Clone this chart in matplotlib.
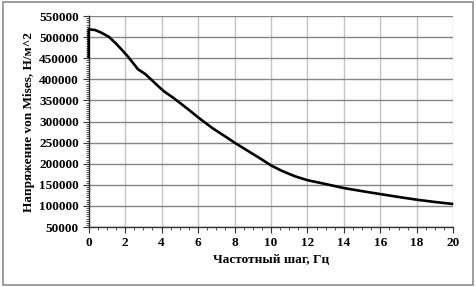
import matplotlib.pyplot as plt
from matplotlib.ticker import MultipleLocator
from matplotlib.patches import Rectangle

# values
freq_step = [0, 0, 0.35, 0.7, 1.1, 1.45, 1.8, 2.15, 2.45, 2.7, 3.1, 3.45,
             3.8, 4.15, 4.65, 5.4, 6, 6.8, 7.55, 8, 8.75, 9.5, 10, 10.6,
             11.3, 12, 13, 14, 15, 16, 17, 18, 19, 20]
stress = [450000, 518500, 517000, 510500, 501000, 487000, 471000, 454000,
          438000, 424000, 412800, 398600, 384400, 371000, 356000, 331000,
          310000, 284000, 263000, 250000, 230000, 210000, 196000, 183000,
          170500, 161000, 151800, 142300, 135000, 128000, 121200, 114700,
          109300, 104500]

x_label = 'Частотный шаг, Гц'
y_label = 'Напряжение von Mises, Н/м^2'

plt.rcParams['font.family'] = ['Liberation Serif', 'DejaVu Serif']
plt.rcParams['font.weight'] = 'bold'

fig = plt.figure(figsize=(4.76, 2.87), dpi=100)
ax = fig.add_axes([0.1863, 0.209, 0.766, 0.735])

ax.plot(freq_step, stress, color='black', lw=1.9, solid_joinstyle='round',
        solid_capstyle='butt', clip_on=False, zorder=5)

ax.set_xlim(0, 20)
ax.set_ylim(50000, 550000)
ax.xaxis.set_major_locator(MultipleLocator(2))
ax.xaxis.set_minor_locator(MultipleLocator(0.5))
ax.yaxis.set_major_locator(MultipleLocator(50000))
ax.yaxis.set_minor_locator(MultipleLocator(5000))

ax.xaxis.grid(True, color='#c4c4c4', lw=1.0)
ax.yaxis.grid(True, color='#858585', lw=1.0)
ax.set_axisbelow(True)

for side in ['top', 'right']:
    ax.spines[side].set_visible(False)
for side in ['left', 'bottom']:
    ax.spines[side].set_color('#333333')
    ax.spines[side].set_linewidth(1.0)

ax.tick_params(which='major', direction='out', length=4, width=0.8,
               color='#333333', labelsize=9.5, pad=3)
ax.tick_params(which='minor', direction='out', length=2.5, width=0.6,
               color='#333333')

ax.set_xlabel(x_label, fontsize=9.5, fontweight='bold', labelpad=4)
ax.set_ylabel(y_label, fontsize=9.5, fontweight='bold', labelpad=3)

fig.canvas.draw()
# no gridline along the top edge in the reference
ax.yaxis.get_gridlines()[-1].set_visible(False)

fig.patches.append(Rectangle((0.006, 0.008), 0.988, 0.985, transform=fig.transFigure,
                             fill=False, edgecolor='#8c8c8c', lw=1.2))

fig.savefig('out.png', dpi=100)
